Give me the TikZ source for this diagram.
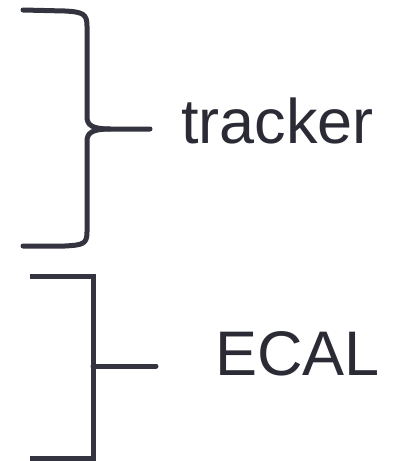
\documentclass[tikz,border=0pt]{standalone}
\usepackage{fontspec}
\setmainfont{Liberation Sans}
\definecolor{ink}{HTML}{33343F}
\definecolor{txt}{HTML}{2B2B36}
\begin{document}
\begin{tikzpicture}[x=1pt,y=-1pt,
  bracket/.style={draw=ink,line width=5pt,line cap=round,line join=round},
  label/.style={text=txt,font=\fontsize{63}{63}\selectfont,inner sep=0pt,anchor=base west}]
\useasboundingbox (0,0) rectangle (395,461);
% curly brace for the tracker
\draw[bracket] (23,10) -- (65,11) .. controls (83,12) and (87,14) .. (87,26)
  -- (87,117) .. controls (87,125) and (92,129) .. (110,129) -- (150,129);
\draw[bracket] (110,129) .. controls (92,129) and (87,133) .. (87,141)
  -- (87,232) .. controls (87,244) and (83,245) .. (65,246) -- (23,246);
% square bracket for the ECAL
\draw[bracket,line cap=butt,line join=miter] (30,276) -- (93,276) -- (93,458) -- (30,458);
\draw[bracket] (93,366) -- (156,366);
\node[label] (tracker) at (181,143) {tracker};
\node[label] (ecal) at (215,375) {ECAL};
\end{tikzpicture}
\end{document}
